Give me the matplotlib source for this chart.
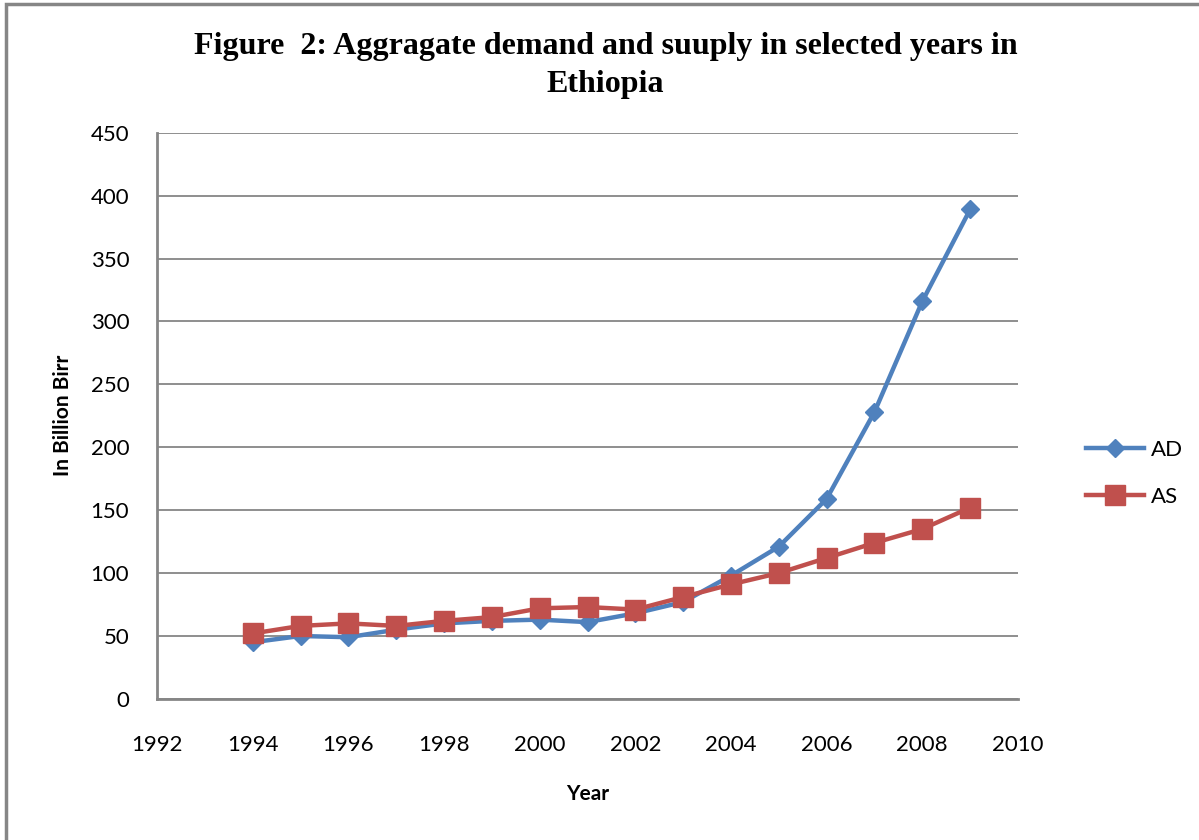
import matplotlib.pyplot as plt
from matplotlib.patches import Rectangle

years = [1994, 1995, 1996, 1997, 1998, 1999, 2000, 2001, 2002,
         2003, 2004, 2005, 2006, 2007, 2008, 2009]
ad = [45, 50, 49, 55, 60, 62, 63, 61, 68, 77, 98, 121, 159, 228, 316, 389]
as_ = [52, 58, 60, 58, 62, 65, 72, 73, 71, 81, 91, 100, 112, 124, 135, 152]

xticks = list(range(1992, 2011, 2))
yticks = list(range(0, 451, 50))

fig = plt.figure(figsize=(11.99, 8.4), dpi=100)
ax = fig.add_axes([0.131, 0.168, 0.718, 0.674])

# cadre gris autour de la figure
fig.patches.append(Rectangle((0.005, -0.05), 1.2, 1.045, transform=fig.transFigure,
                             fill=False, edgecolor='#868686', linewidth=2.5))

ax.plot(years, ad, color='#4F81BD', linewidth=3.2, marker='D', markersize=9,
        label='AD', zorder=3)
ax.plot(years, as_, color='#C0504D', linewidth=3.2, marker='s', markersize=14,
        label='AS', zorder=4)

ax.set_xlim(1992, 2010)
ax.set_ylim(0, 450)
ax.set_xticks(xticks)
ax.set_yticks(yticks)
ax.tick_params(length=0, labelsize=16)
ax.tick_params(axis='x', pad=26)
ax.tick_params(axis='y', pad=20)
for lab in ax.get_xticklabels() + ax.get_yticklabels():
    lab.set_family('Lato')

ax.grid(axis='y', color='#868686', linewidth=1.3)
ax.set_axisbelow(True)
for s in ['top', 'right']:
    ax.spines[s].set_visible(False)
for s in ['left', 'bottom']:
    ax.spines[s].set_color('#868686')
    ax.spines[s].set_linewidth(2)

ax.set_xlabel('Year', family='Lato', fontsize=15, fontweight='bold', labelpad=21)
ax.set_ylabel('In Billion Birr', family='Lato', fontsize=15, fontweight='bold', labelpad=13)

fig.text(0.505, 0.922, 'Figure  2: Aggragate demand and suuply in selected years in\nEthiopia',
         ha='center', va='center', family='Liberation Serif', fontweight='bold',
         fontsize=23, linespacing=1.45)

ax.legend(loc='center left', bbox_to_anchor=(1.056, 0.398), frameon=False,
          prop={'family': 'Lato', 'size': 16}, handlelength=2.6,
          labelspacing=1.2, handletextpad=0.3)

fig.savefig('out.png', dpi=100)
